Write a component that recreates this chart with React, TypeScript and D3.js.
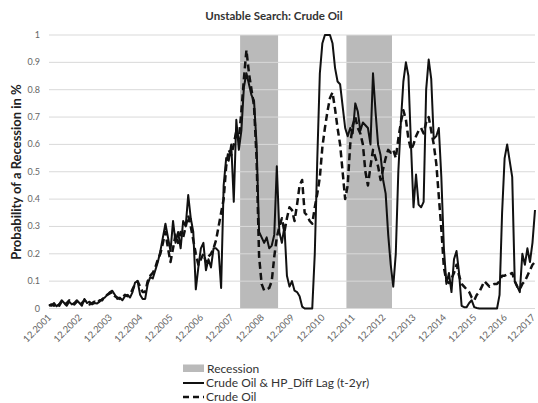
import React from "react";
import * as d3 from "d3";

// ---- Data (monthly, 12.2001 .. 12.2017) ----
const months: Date[] = d3.timeMonth.range(new Date(2001, 11, 1), new Date(2018, 0, 1));
const fmt = d3.timeFormat("%m.%Y");
const monthLabels: string[] = months.map((d) => fmt(d));

const tickLabels: string[] = [
  "12.2001", "12.2002", "12.2003", "12.2004", "12.2005", "12.2006", "12.2007", "12.2008", "12.2009",
  "12.2010", "12.2011", "12.2012", "12.2013", "12.2014", "12.2015", "12.2016", "12.2017",
];

const yTicks: number[] = [0, 0.1, 0.2, 0.3, 0.4, 0.5, 0.6, 0.7, 0.8, 0.9, 1];
const yTickLabels: string[] = ["0", "0.1", "0.2", "0.3", "0.4", "0.5", "0.6", "0.7", "0.8", "0.9", "1"];

const recessions = [
  { start: "04.2008", end: "06.2009" },
  { start: "10.2011", end: "03.2013" },
];

// Crude Oil & HP_Diff Lag (t-2yr)  (solid)
const hpDiffLag: number[] = [
  0.013, 0.01, 0.02, 0.008, 0.015, 0.03, 0.02, 0.01, 0.025, 0.015, 0.02, 0.03,
  0.02, 0.01, 0.035, 0.02, 0.025, 0.015, 0.02, 0.018, 0.025, 0.035, 0.04, 0.05,
  0.06, 0.065, 0.05, 0.035, 0.04, 0.03, 0.045, 0.05, 0.04, 0.06, 0.095, 0.1,
  0.05, 0.035, 0.035, 0.09, 0.115, 0.11, 0.14, 0.17, 0.21, 0.26, 0.31, 0.26,
  0.21, 0.32, 0.24, 0.28, 0.22, 0.32, 0.3, 0.415, 0.33, 0.28, 0.07, 0.15,
  0.22, 0.24, 0.14, 0.18, 0.15, 0.22, 0.22, 0.21, 0.075, 0.45, 0.55, 0.54,
  0.6, 0.39, 0.69, 0.58, 0.65, 0.81, 0.86, 0.82, 0.78, 0.76, 0.6, 0.28,
  0.26, 0.24, 0.26, 0.22, 0.23, 0.27, 0.52, 0.28, 0.24, 0.3, 0.12, 0.08,
  0.1, 0.065, 0.06, 0.045, 0.007, 0, 0, 0, 0, 0.2, 0.55, 0.86,
  0.97, 1, 1, 1, 0.97, 0.88, 0.83, 0.82, 0.74, 0.66, 0.63, 0.66,
  0.64, 0.75, 0.72, 0.65, 0.68, 0.67, 0.66, 0.6, 0.86, 0.72, 0.6, 0.56,
  0.47, 0.42, 0.27, 0.16, 0.08, 0.2, 0.5, 0.68, 0.83, 0.9, 0.85, 0.6,
  0.37, 0.49, 0.38, 0.37, 0.39, 0.8, 0.91, 0.84, 0.62, 0.63, 0.66, 0.48,
  0.22, 0.09, 0.13, 0.06, 0.18, 0.21, 0.13, 0.01, 0.005, 0.005, 0.02, 0.03,
  0.005, 0.002, 0, 0, 0, 0, 0, 0, 0, 0, 0.05, 0.35,
  0.55, 0.6, 0.54, 0.48, 0.1, 0.08, 0.06, 0.2, 0.16, 0.22, 0.17, 0.24,
  0.36,
];

// Crude Oil (dashed)
const crudeOil: number[] = [
  0.01, 0.015, 0.01, 0.02, 0.01, 0.025, 0.015, 0.02, 0.03, 0.02, 0.015, 0.025,
  0.03, 0.02, 0.03, 0.025, 0.015, 0.02, 0.025, 0.02, 0.03, 0.03, 0.045, 0.05,
  0.055, 0.06, 0.045, 0.04, 0.035, 0.04, 0.05, 0.045, 0.05, 0.07, 0.09, 0.1,
  0.08, 0.06, 0.06, 0.1, 0.12, 0.13, 0.15, 0.18, 0.2, 0.24, 0.28, 0.22,
  0.17, 0.22, 0.27, 0.24, 0.28, 0.26, 0.3, 0.34, 0.3, 0.25, 0.2, 0.16,
  0.18, 0.2, 0.17, 0.19, 0.2, 0.22, 0.25, 0.3, 0.35, 0.4, 0.52, 0.58,
  0.56, 0.6, 0.65, 0.62, 0.72, 0.84, 0.945, 0.86, 0.8, 0.74, 0.55, 0.19,
  0.09, 0.066, 0.07, 0.075, 0.1, 0.19, 0.26, 0.3, 0.33, 0.28, 0.33, 0.37,
  0.36, 0.32, 0.38, 0.45, 0.47, 0.35, 0.34, 0.32, 0.31, 0.37, 0.42, 0.48,
  0.59, 0.66, 0.72, 0.77, 0.79, 0.73, 0.66, 0.6, 0.5, 0.4, 0.45, 0.6,
  0.67, 0.7, 0.66, 0.64, 0.6, 0.5, 0.45, 0.52, 0.58, 0.55, 0.52, 0.47,
  0.51, 0.55, 0.58, 0.57, 0.58, 0.55, 0.62, 0.68, 0.725, 0.69, 0.62, 0.58,
  0.6, 0.63, 0.65, 0.66, 0.64, 0.68, 0.7, 0.65, 0.6, 0.53, 0.41, 0.29,
  0.15, 0.1, 0.093, 0.11, 0.13, 0.16, 0.12, 0.09, 0.08, 0.07, 0.06, 0.04,
  0.03, 0.05, 0.06, 0.08, 0.1, 0.09, 0.08, 0.085, 0.09, 0.09, 0.1, 0.12,
  0.12, 0.125, 0.125, 0.13, 0.1, 0.08, 0.07, 0.09, 0.1, 0.12, 0.14, 0.16,
  0.17,
];

const W = 538;
const H = 403;
const plot = { left: 49, right: 535, top: 35, bottom: 308.5 };
const FONT = "Lato, 'Open Sans', 'DejaVu Sans', sans-serif";

export default function App() {
  const x = d3.scalePoint<string>().domain(monthLabels).range([plot.left, plot.right]);
  const y = d3.scaleLinear().domain([0, 1]).range([plot.bottom, plot.top]);
  const step = x.step();

  const line = d3
    .line<number>()
    .x((_, i) => x(monthLabels[i]) as number)
    .y((v) => y(v));

  return (
    <div style={{ position: "absolute", left: 0, top: 0, width: W, height: H, background: "#fff" }}>
      <svg width={W} height={H} style={{ display: "block" }}>
        <rect x={0} y={0} width={W} height={H} fill="#fff" />
        {/* recession shading */}
        {recessions.map((r, k) => {
          const x0 = (x(r.start) as number) - step / 2;
          const x1 = (x(r.end) as number) + step / 2;
          return <rect key={k} x={x0} y={y(1)} width={x1 - x0} height={y(0) - y(1)} fill="#bababa" />;
        })}
        {/* gridlines */}
        {yTicks.map((t) => (
          <line key={t} x1={plot.left} x2={plot.right} y1={y(t)} y2={y(t)} stroke="#d9d9d9" strokeWidth={1} />
        ))}
        {/* y tick labels */}
        {yTicks.map((t, i) => (
          <text key={t} x={40} y={y(t) + 3} textAnchor="end" fontFamily={FONT} fontSize={9} fill="#666">
            {yTickLabels[i]}
          </text>
        ))}
        {/* x tick labels */}
        {tickLabels.map((l) => {
          const px = x(l) as number;
          return (
            <text
              key={l}
              transform={`translate(${Math.min(px + 3, 536)},${318}) rotate(-45)`}
              textAnchor="end"
              fontFamily={FONT}
              fontSize={9.5}
              fill="#666"
            >
              {l}
            </text>
          );
        })}
        {/* lines */}
        <path d={line(crudeOil) || ""} fill="none" stroke="#111" strokeWidth={2.5} strokeDasharray="7,4" strokeLinejoin="round" />
        <path d={line(hpDiffLag) || ""} fill="none" stroke="#111" strokeWidth={2} strokeLinejoin="round" />
        {/* title */}
        <text x={274} y={20} textAnchor="middle" fontFamily={FONT} fontWeight="bold" fontSize={11.5} fill="#333">
          Unstable Search: Crude Oil
        </text>
        {/* y axis title */}
        <text
          transform={`translate(21,172) rotate(-90)`}
          textAnchor="middle"
          fontFamily={FONT}
          fontWeight="bold"
          fontSize={13}
          fill="#222"
        >
          Probability of a Recession in %
        </text>
        {/* legend */}
        <rect x={183} y={364.5} width={21} height={7.5} fill="#bababa" />
        <text x={207} y={372.5} fontFamily={FONT} fontSize={12} fill="#333">Recession</text>
        <line x1={183} x2={204} y1={383} y2={383} stroke="#111" strokeWidth={2} />
        <text x={206} y={387} fontFamily={FONT} fontSize={12} fill="#333">Crude Oil &amp; HP_Diff Lag (t-2yr)</text>
        <line x1={183} x2={204} y1={397} y2={397} stroke="#111" strokeWidth={2.5} strokeDasharray="6,4" />
        <text x={206} y={401} fontFamily={FONT} fontSize={12} fill="#333">Crude Oil</text>
      </svg>
    </div>
  );
}
